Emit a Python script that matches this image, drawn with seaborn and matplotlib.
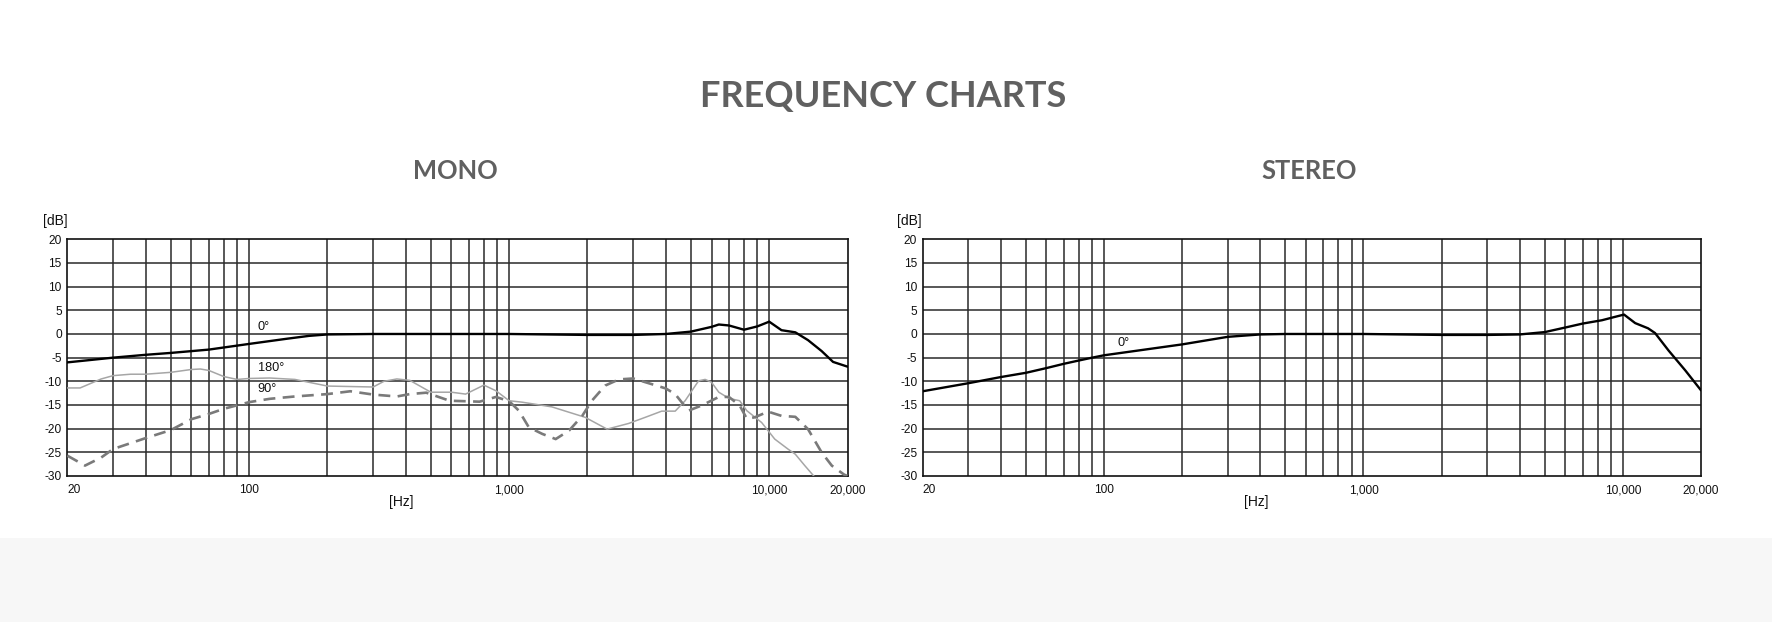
import numpy as np
import pandas as pd
import matplotlib
matplotlib.use('Agg')
import matplotlib.pyplot as plt
import seaborn as sns
from matplotlib.ticker import FixedLocator, NullFormatter, NullLocator

# ---- data ----
# mono, 0 degrees
mono_0_freq = [20, 30, 40, 50, 70, 100, 140, 170, 200, 300, 500, 1000, 2000, 3000, 4000,
               5000, 6000, 6400, 7000, 8000, 9000, 10000, 11150, 12600, 14100, 15900, 17600, 20000]
mono_0_db = [-6.0, -5.0, -4.4, -4.0, -3.3, -2.1, -1.0, -0.4, -0.1, 0.0, 0.0, 0.0, -0.2, -0.2, 0.0,
             0.5, 1.5, 2.0, 1.8, 0.9, 1.6, 2.6, 0.8, 0.35, -1.3, -3.6, -5.9, -6.9]

# mono, 180 degrees
mono_180_freq = [20, 22.4, 27, 30, 35, 40, 50, 60, 65, 70, 80, 90, 100, 120, 150, 200, 245, 300,
                 330, 370, 415, 500, 600, 680, 800, 890, 1000, 1120, 1460, 1960, 2380, 2880, 3340,
                 3860, 4350, 4750, 5350, 5670, 6000, 6400, 7000, 7700, 8200, 9350, 10500, 11800,
                 12600, 13700, 15000]
mono_180_db = [-11.4, -11.4, -9.5, -8.8, -8.5, -8.5, -8.1, -7.5, -7.4, -7.7, -9.0, -9.6, -9.4, -9.3,
               -9.6, -11.0, -11.1, -11.2, -10.0, -9.5, -9.8, -12.3, -12.3, -12.7, -10.8, -12.0,
               -14.1, -14.4, -15.4, -17.6, -20.1, -18.9, -17.6, -16.3, -16.3, -14.1, -9.9, -9.6,
               -10.2, -12.3, -13.6, -14.1, -16.2, -18.7, -22.2, -24.3, -25.4, -27.8, -30.3]

# mono, 90 degrees
mono_90_freq = [20, 23.4, 27, 30, 40, 50, 60, 70, 80, 100, 120, 150, 200, 245, 300, 370, 415, 480,
                590, 770, 890, 1000, 1090, 1190, 1340, 1510, 1700, 1910, 2080, 2340, 2640, 3000,
                3440, 4000, 4350, 4890, 5500, 6400, 7000, 7700, 8200, 8800, 9900, 11150, 12600,
                14100, 15900, 17400, 19400, 20000]
mono_90_db = [-25.7, -27.8, -26.1, -24.3, -22.0, -20.3, -18.0, -16.9, -15.8, -14.4, -13.7, -13.2,
              -12.7, -12.1, -12.8, -13.2, -12.7, -12.4, -14.1, -14.3, -13.3, -14.2, -16.2, -19.7,
              -21.1, -22.2, -20.4, -17.3, -14.1, -10.9, -9.6, -9.4, -10.4, -11.5, -12.7, -16.2,
              -15.1, -13.3, -13.3, -15.1, -17.9, -17.6, -16.4, -17.3, -17.5, -20.1, -25.0, -27.8,
              -29.7, -30.0]

# stereo, 0 degrees
stereo_0_freq = [20, 30, 40, 50, 60, 70, 80, 90, 100, 200, 300, 400, 500, 1000, 2000, 3000, 4000,
                 5000, 6150, 7000, 8300, 9300, 10100, 11150, 12500, 13300, 15000, 17400, 20000]
stereo_0_db = [-12.1, -10.4, -9.1, -8.2, -7.2, -6.3, -5.6, -5.0, -4.5, -2.2, -0.6, -0.1, 0.0, 0.0,
               -0.2, -0.2, -0.1, 0.4, 1.5, 2.2, 2.9, 3.6, 4.1, 2.3, 1.2, 0.2, -3.5, -7.7, -11.9]

db_ticks = [20, 15, 10, 5, 0, -5, -10, -15, -20, -25, -30]
hz_ticks = [20, 100, 1000, 10000, 20000]
hz_labels = ['20', '100', '1,000', '10,000', '20,000']
grid_freqs = [m * 10 ** e for e in range(1, 5) for m in range(1, 10)]
grid_freqs = [g for g in grid_freqs if 20 < g < 20000]

W, H = 1772, 622
sns.set_style('white')
plt.rcParams['font.family'] = ['Liberation Sans', 'DejaVu Sans']

fig = plt.figure(figsize=(W / 100, H / 100), dpi=100)
fig.patch.set_facecolor('white')

# grey band at the bottom of the page
fig.patches.append(plt.Rectangle((0, 0), 1, (H - 537.7) / H, transform=fig.transFigure,
                                 facecolor='#f7f7f7', edgecolor='none', zorder=0))


def px_axes(x0, x1, y0, y1):
    return fig.add_axes([x0 / W, 1 - y1 / H, (x1 - x0) / W, (y1 - y0) / H])


ax_mono = px_axes(67.3, 847.5, 239.3, 476)
ax_st = px_axes(922.7, 1701, 239.3, 476)

for ax in (ax_mono, ax_st):
    ax.set_xscale('log')
    ax.set_xlim(20, 20000)
    ax.set_ylim(-30, 20)
    for g in grid_freqs:
        ax.axvline(g, color='#2a2a2a', lw=1.1, zorder=1)
    for d in db_ticks[1:-1]:
        ax.axhline(d, color='#2a2a2a', lw=1.1, zorder=1)
    ax.xaxis.set_major_locator(FixedLocator(hz_ticks))
    ax.xaxis.set_minor_locator(NullLocator())
    ax.xaxis.set_minor_formatter(NullFormatter())
    ax.set_xticklabels(hz_labels)
    ax.get_xticklabels()[0].set_ha('left')
    ax.set_yticks(db_ticks)
    ax.set_yticklabels([str(d) for d in db_ticks])
    ax.tick_params(axis='both', length=0, labelsize=8.6, colors='#111111')
    ax.tick_params(axis='x', pad=6)
    ax.tick_params(axis='y', pad=4)
    for s in ax.spines.values():
        s.set_visible(True)
        s.set_color('#111111')
        s.set_linewidth(1.2)
    ax.set_facecolor('white')

# curves
sns.lineplot(x=mono_180_freq, y=mono_180_db, ax=ax_mono, color='#a6a6a6', lw=1.1, zorder=3)
sns.lineplot(x=mono_90_freq, y=mono_90_db, ax=ax_mono, color='#7a7a7a', lw=1.9,
             linestyle=(0, (4.5, 2.8)), zorder=4)
sns.lineplot(x=mono_0_freq, y=mono_0_db, ax=ax_mono, color='#000000', lw=1.7, zorder=5)
sns.lineplot(x=stereo_0_freq, y=stereo_0_db, ax=ax_st, color='#000000', lw=1.7, zorder=5)

for ax in (ax_mono, ax_st):
    ax.set_xlim(20, 20000)
    ax.set_ylim(-30, 20)
    ax.set_xlabel('')
    ax.set_ylabel('')

# curve labels
lab_kw = dict(fontsize=9.2, color='#111111', ha='left', va='center', zorder=6)
ax_mono.text(108, 1.4, '0°', **lab_kw)
ax_mono.text(108, -7.2, '180°', **lab_kw)
ax_mono.text(108, -11.7, '90°', **lab_kw)
ax_st.text(113, -2.0, '0°', **lab_kw)

# axis units
unit_kw = dict(fontsize=10, color='#111111', ha='center', va='center')
fig.text(55 / W, 1 - 220.7 / H, '[dB]', **unit_kw)
fig.text(909.7 / W, 1 - 220.7 / H, '[dB]', **unit_kw)
fig.text(401.7 / W, 1 - 501.7 / H, '[Hz]', **unit_kw)
fig.text(1256 / W, 1 - 501.7 / H, '[Hz]', **unit_kw)

# headings
head_kw = dict(family=['Lato', 'DejaVu Sans'], weight='bold', color='#606060',
               ha='center', va='baseline')
fig.text(883 / W, 1 - 106.7 / H, 'FREQUENCY CHARTS', fontsize=26, **head_kw)
fig.text(455 / W, 1 - 179.3 / H, 'MONO', fontsize=18.4, **head_kw)
fig.text(1309.5 / W, 1 - 179.3 / H, 'STEREO', fontsize=18.4, **head_kw)

fig.savefig('out.png', dpi=100, facecolor='white')
